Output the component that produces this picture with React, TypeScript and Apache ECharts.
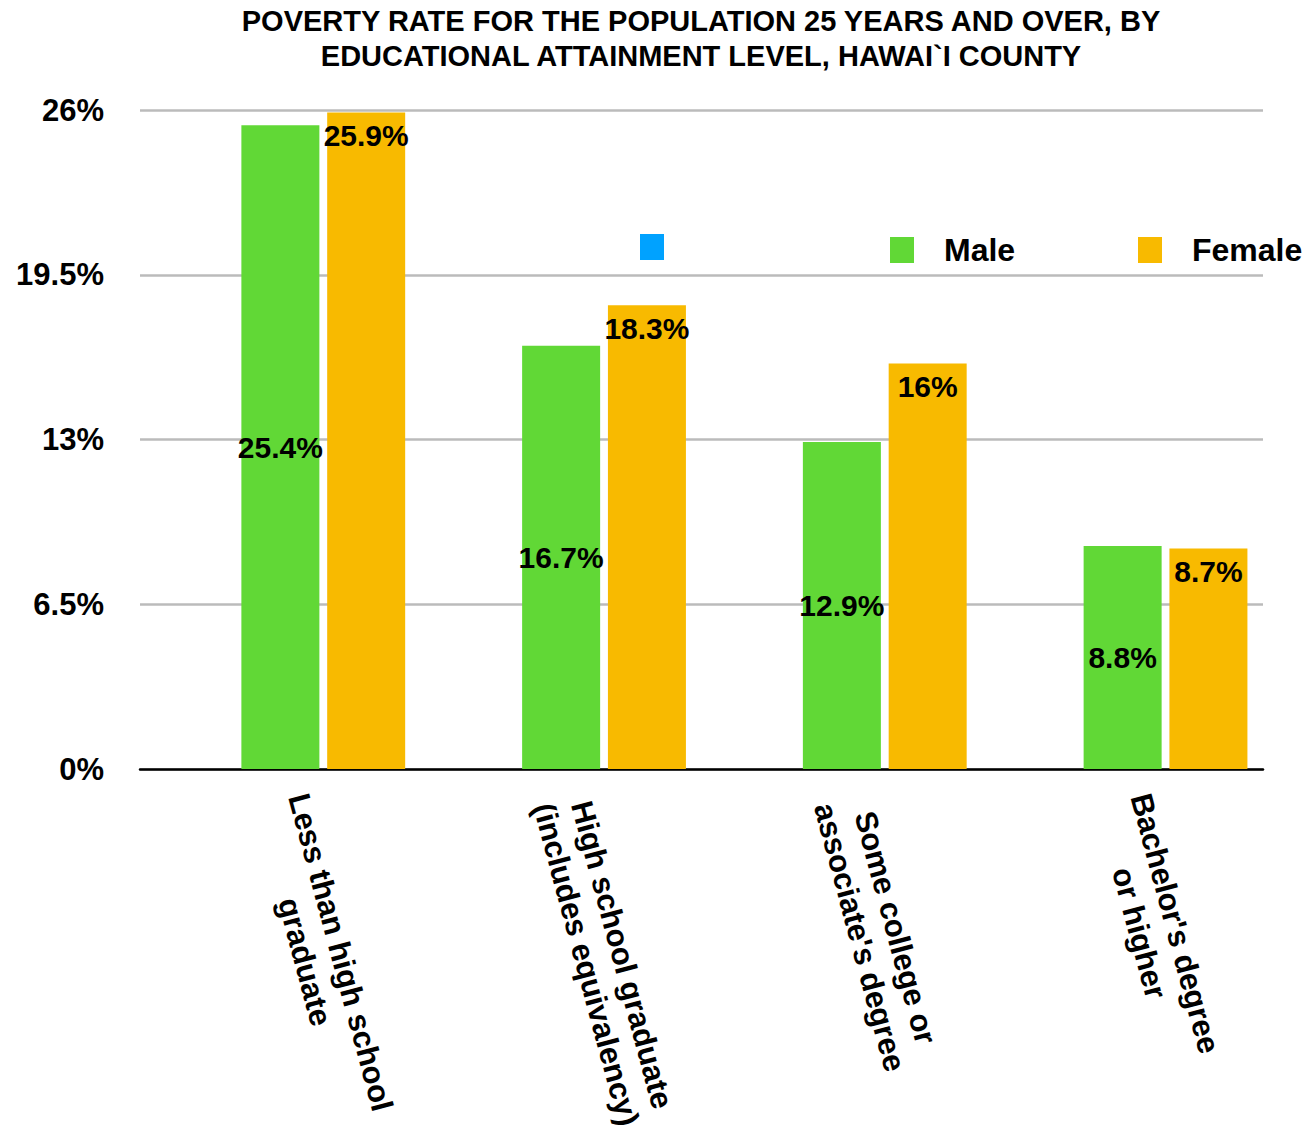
import React, { useEffect, useRef } from "react";
import * as echarts from "echarts";

const categories = [
  "Less than high school\ngraduate",
  "High school graduate\n(includes equivalency)",
  "Some college or\nassociate's degree",
  "Bachelor's degree\nor higher",
];
const blankValues: (number | null)[] = [null, null, null, null];
const maleValues = [25.4, 16.7, 12.9, 8.8];
const femaleValues = [25.9, 18.3, 16, 8.7];
const yTicks = { min: 0, max: 26, interval: 6.5 };

const FONT = '"Liberation Sans", Arial, Helvetica, sans-serif';

export default function App() {
  const ref = useRef<HTMLDivElement>(null);
  useEffect(() => {
    document.body.style.margin = "0";
    if (!ref.current) return;
    const chart = echarts.init(ref.current, undefined, { renderer: "svg" });
    const legendBase = {
      orient: "horizontal",
      top: 234,
      padding: 0,
      itemWidth: 24,
      itemHeight: 26,
      icon: "rect",
      textStyle: {
        fontFamily: FONT,
        fontSize: 32,
        fontWeight: "bold",
        color: "#000",
        padding: [0, 0, 0, 25],
      },
    };
    chart.setOption({
      animation: false,
      backgroundColor: "#fff",
      textStyle: { fontFamily: FONT },
      title: {
        text: "POVERTY RATE FOR THE POPULATION 25 YEARS AND OVER, BY\nEDUCATIONAL ATTAINMENT LEVEL, HAWAI`I COUNTY",
        left: 701,
        top: 3,
        padding: 0,
        textAlign: "center",
        textStyle: {
          fontFamily: FONT,
          fontSize: 29,
          fontWeight: "bold",
          color: "#000",
          lineHeight: 35,
        },
      },
      legend: [
        { ...legendBase, left: 640, data: ["Blank"], formatter: () => "" },
        { ...legendBase, left: 890, data: ["Male"] },
        { ...legendBase, left: 1138, data: ["Female"] },
      ],
      grid: {
        left: 140,
        right: 44,
        top: 110,
        bottom: 358,
        containLabel: false,
        outerBoundsMode: "none",
      },
      xAxis: {
        type: "category",
        data: categories,
        axisLine: { show: true, lineStyle: { color: "#000", width: 2.5 } },
        axisTick: { show: false },
        axisLabel: {
          interval: 0,
          rotate: -75,
          margin: 30,
          color: "#000",
          fontFamily: FONT,
          fontSize: 31,
          fontWeight: "bold",
          lineHeight: 37,
          formatter: (v: string) =>
            v
              .split("\n")
              .map((l) => `{c|${l}}`)
              .join("\n"),
          rich: {
            c: {
              align: "center",
              fontFamily: FONT,
              fontSize: 31,
              fontWeight: "bold",
              color: "#000",
              lineHeight: 37,
            },
          },
        },
      },
      yAxis: {
        type: "value",
        min: yTicks.min,
        max: yTicks.max,
        interval: yTicks.interval,
        axisLine: { show: false },
        axisTick: { show: false },
        splitLine: { lineStyle: { color: "#bbbbbb", width: 2.5 } },
        axisLabel: {
          margin: 36,
          color: "#000",
          fontFamily: FONT,
          fontSize: 31,
          fontWeight: "bold",
          formatter: "{value}%",
        },
      },
      series: [
        {
          name: "Blank",
          type: "bar",
          data: blankValues,
          barWidth: 78,
          barGap: "10%",
          itemStyle: { color: "#00A2FF" },
        },
        {
          name: "Male",
          type: "bar",
          data: maleValues,
          barWidth: 78,
          barGap: "10%",
          itemStyle: { color: "#61D836" },
          label: {
            show: true,
            position: "inside",
            formatter: "{c}%",
            color: "#000",
            fontFamily: FONT,
            fontSize: 30,
            fontWeight: "bold",
          },
        },
        {
          name: "Female",
          type: "bar",
          data: femaleValues,
          barWidth: 78,
          barGap: "10%",
          itemStyle: { color: "#F8BA00" },
          label: {
            show: true,
            position: "insideTop",
            distance: 8,
            formatter: "{c}%",
            color: "#000",
            fontFamily: FONT,
            fontSize: 30,
            fontWeight: "bold",
          },
        },
      ],
    });
    return () => chart.dispose();
  }, []);
  return <div ref={ref} style={{ width: 1307, height: 1127 }} />;
}
